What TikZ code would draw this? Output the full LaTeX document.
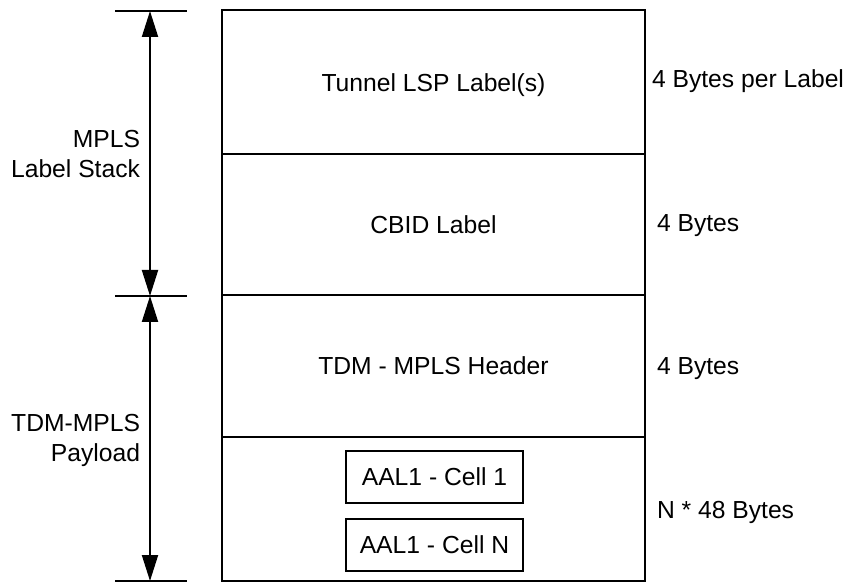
\documentclass[tikz,border=0pt]{standalone}
\usepackage{fontspec}
\setmainfont{Liberation Sans}
\usetikzlibrary{arrows.meta}
\begin{document}
\begin{tikzpicture}[x=0.75pt,y=-0.75pt,
  every node/.style={font=\fontsize{18.5}{22.5}\selectfont, inner sep=0pt, outer sep=0pt},
  row/.style={draw, line width=1.5pt, minimum width=317.25pt, text height=13.2pt, text depth=0pt},
  cell/.style={draw, line width=1.2pt, minimum width=132.75pt, minimum height=39pt, text height=13.2pt, text depth=0pt},
  tick/.style={line width=1.5pt},
  dim/.style={line width=1.5pt, {Triangle[length=19.5pt,width=12pt]}-{Triangle[length=19.5pt,width=12pt]}},
  sidelabel/.style={anchor=base west},
  leftlabel/.style={anchor=east, align=right}]
\useasboundingbox (0,0) rectangle (849,584);

% stack of rows
\node[row, minimum height=108.375pt] (r1) at (433.5,82.25) {Tunnel LSP Label(s)};
\node[row, minimum height=105.375pt] (r2) at (433.5,224.75) {CBID Label};
\node[row, minimum height=106.5pt]   (r3) at (433.5,366) {TDM - MPLS Header};
\node[row, minimum height=108pt]     (r4) at (433.5,509) {};

% cells
\node[cell] (c1) at (434.5,477) {AAL1 - Cell 1};
\node[cell] (cN) at (434.5,545) {AAL1 - Cell N};

% right labels
\node[sidelabel] (s1) at (652,88)  {4 Bytes per Label};
\node[sidelabel] (s2) at (657,232) {4 Bytes};
\node[sidelabel] (s3) at (657,374) {4 Bytes};
\node[sidelabel] (s4) at (657,518) {N * 48 Bytes};

% tick lines
\coordinate (t1l) at (115,11);  \coordinate (t1r) at (187,11);
\coordinate (t2l) at (115,296); \coordinate (t2r) at (187,296);
\coordinate (t3l) at (115,581); \coordinate (t3r) at (187,581);
\draw[tick] (t1l) -- (t1r);
\draw[tick] (t2l) -- (t2r);
\draw[tick] (t3l) -- (t3r);

% dimension arrows
\coordinate (a1) at (150,11);
\coordinate (a2) at (150,296);
\coordinate (a3) at (150,581);
\draw[dim] (a1) -- (a2);
\draw[dim] (a2) -- (a3);

% left labels
\node[leftlabel] (l1) at (140,154) {MPLS\\Label Stack};
\node[leftlabel] (l2) at (140,440) {TDM-MPLS\\Payload};
\end{tikzpicture}
\end{document}
